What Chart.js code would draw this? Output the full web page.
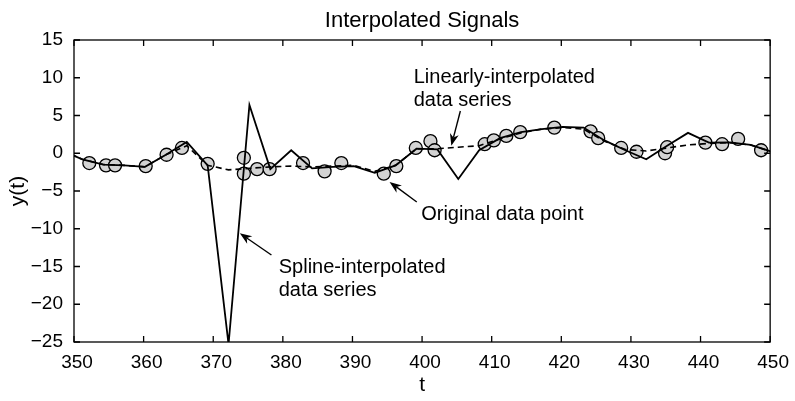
<!DOCTYPE html>
<html>
<head>
<meta charset="utf-8">
<script src="https://cdn.jsdelivr.net/npm/chart.js@4/dist/chart.umd.min.js"></script>
<style>
html,body{margin:0;padding:0;background:#fff;}
canvas{display:block;}
</style>
</head>
<body>
<canvas id="c" width="795" height="401"></canvas>
<script>
// ---- data ----
const gridT = [348.2,351.2,354.2,357.2,360.2,363.2,366.2,369.2,372.2,375.2,378.2,381.2,384.2,387.2,390.2,393.2,396.2,399.2,402.2,405.2,408.2,411.2,414.2,417.2,420.2,423.2,426.2,429.2,432.2,435.2,438.2,441.2,444.2,447.2,450.2];
const splineY = [0.4,-0.8,-1.5,-1.6,-1.8,-0.2,1.5,-1.6,-25.3,6.4,-2.1,0.4,-2.0,-1.8,-1.7,-2.6,-1.6,0.6,0.5,-3.4,0.4,2.0,2.8,3.2,3.5,3.4,1.7,0.4,-0.8,1.0,2.7,1.4,1.45,1.1,0.2];
const linearY = [0.4,-0.8,-1.5,-1.6,-1.8,-0.2,1.0,-1.6,-2.2,-2.0,-1.8,-1.7,-1.8,-1.7,-1.6,-2.4,-1.6,0.6,0.6,0.8,1.0,1.9,2.7,3.2,3.4,3.2,1.6,0.5,0.3,0.7,1.1,1.3,1.4,1.1,0.2];
const origT = [352.2,354.6,355.9,360.3,363.3,365.5,369.2,374.4,374.4,376.3,378.1,382.9,386.0,388.4,394.5,396.3,399.1,401.2,401.8,409.0,410.3,412.1,414.1,419.0,424.2,425.3,428.6,430.8,434.9,435.2,440.7,443.1,445.4,448.7];
const origY = [-1.3,-1.6,-1.6,-1.7,-0.2,0.7,-1.4,-0.6,-2.7,-2.1,-2.1,-1.3,-2.4,-1.3,-2.7,-1.7,0.7,1.6,0.4,1.2,1.7,2.3,2.8,3.4,2.9,2.0,0.7,0.2,0.0,0.8,1.4,1.2,1.9,0.4];
const xTicks = [350,360,370,380,390,400,410,420,430,440,450];
const yTicks = [-25,-20,-15,-10,-5,0,5,10,15];
const chartTitle = 'Interpolated Signals';
const xLabel = 't';
const yLabel = 'y(t)';
const notes = [
  {lines:['Linearly-interpolated','data series'], t:398.8, y:9.37, from:[405.5,5.6], to:[404.2,1.0]},
  {lines:['Original data point'], t:399.87, y:-8.84, from:[399.24,-6.46], to:[395.33,-3.8]},
  {lines:['Spline-interpolated','data series'], t:379.41, y:-15.86, from:[378.36,-13.48], to:[373.82,-10.6]}
];

const FONT = "'Liberation Sans', Arial, Helvetica, sans-serif";
const toXY = (xs, ys) => xs.map((x,i)=>({x:x, y:ys[i]}));

const framePlugin = {
  id:'frame',
  afterDatasetsDraw(chart){
    const {ctx, chartArea:a, scales:{x, y}} = chart;
    ctx.save();
    ctx.strokeStyle = '#000';
    ctx.lineWidth = 1.3;
    ctx.strokeRect(a.left, a.top, a.right-a.left, a.bottom-a.top);
    const tl = 6;
    ctx.beginPath();
    xTicks.forEach(v=>{
      const px = x.getPixelForValue(v);
      ctx.moveTo(px, a.bottom); ctx.lineTo(px, a.bottom-tl);
      ctx.moveTo(px, a.top); ctx.lineTo(px, a.top+tl);
    });
    yTicks.forEach(v=>{
      const py = y.getPixelForValue(v);
      ctx.moveTo(a.left, py); ctx.lineTo(a.left+tl, py);
      ctx.moveTo(a.right, py); ctx.lineTo(a.right-tl, py);
    });
    ctx.stroke();
    // title
    ctx.fillStyle = '#000';
    ctx.font = '22px ' + FONT;
    ctx.textAlign = 'center';
    ctx.textBaseline = 'alphabetic';
    ctx.fillText(chartTitle, (a.left+a.right)/2, 27);
    // annotations
    ctx.font = '20px ' + FONT;
    ctx.textAlign = 'left';
    notes.forEach(n=>{
      const tx = x.getPixelForValue(n.t), ty = y.getPixelForValue(n.y);
      n.lines.forEach((s,i)=> ctx.fillText(s, tx, ty + i*23.5));
      const x1 = x.getPixelForValue(n.from[0]), y1 = y.getPixelForValue(n.from[1]);
      const x2 = x.getPixelForValue(n.to[0]), y2 = y.getPixelForValue(n.to[1]);
      const ang = Math.atan2(y2-y1, x2-x1);
      const hl = 12, hw = 4.5;
      ctx.lineWidth = 1.4;
      ctx.beginPath();
      ctx.moveTo(x1,y1);
      ctx.lineTo(x2 - Math.cos(ang)*hl*0.7, y2 - Math.sin(ang)*hl*0.7);
      ctx.stroke();
      ctx.beginPath();
      ctx.moveTo(x2,y2);
      ctx.lineTo(x2 - Math.cos(ang)*hl - Math.sin(ang)*hw, y2 - Math.sin(ang)*hl + Math.cos(ang)*hw);
      ctx.lineTo(x2 - Math.cos(ang)*hl*0.7, y2 - Math.sin(ang)*hl*0.7);
      ctx.lineTo(x2 - Math.cos(ang)*hl + Math.sin(ang)*hw, y2 - Math.sin(ang)*hl - Math.cos(ang)*hw);
      ctx.closePath();
      ctx.fill();
    });
    ctx.restore();
  }
};

new Chart(document.getElementById('c'), {
  type:'scatter',
  data:{
    datasets:[
      {label:'Spline-interpolated', data:toXY(gridT, splineY), showLine:true, borderColor:'#000', borderWidth:1.8, pointRadius:0, order:1, tension:0},
      {label:'Linearly-interpolated', data:toXY(gridT, linearY), showLine:true, borderColor:'#000', borderWidth:1.6, borderDash:[6,4], pointRadius:0, order:2, tension:0},
      {label:'Original', data:toXY(origT, origY), showLine:false, pointRadius:6.5, pointBackgroundColor:'#d3d3d3', pointBorderColor:'#000', pointBorderWidth:1.3, order:3}
    ]
  },
  options:{
    responsive:false, animation:false, devicePixelRatio:1,
    layout:{padding:{top:40, right:24, left:0, bottom:0}},
    plugins:{legend:{display:false}, tooltip:{enabled:false}, title:{display:false}},
    scales:{
      x:{type:'linear', min:350, max:450,
         afterBuildTicks(s){ s.ticks = xTicks.map(v=>({value:v})); },
         afterFit(s){ s.height = 59; },
         grid:{display:false, drawTicks:false}, border:{display:false},
         ticks:{color:'#000', font:{family:FONT, size:19}, padding:9, labelOffset:3},
         title:{display:true, text:xLabel, color:'#000', font:{family:FONT, size:21}, padding:{top:0,bottom:3}}
      },
      y:{type:'linear', min:-25, max:15,
         afterBuildTicks(s){ s.ticks = yTicks.map(v=>({value:v})); },
         afterFit(s){ s.width = 74; },
         grid:{display:false, drawTicks:false}, border:{display:false},
         ticks:{color:'#000', font:{family:FONT, size:19}, padding:11,
                callback:(v)=> String(v).replace('-', '\u2212')},
         title:{display:true, text:yLabel, color:'#000', font:{family:FONT, size:21}, padding:{top:6,bottom:0}}
      }
    }
  },
  plugins:[framePlugin]
});
</script>
</body>
</html>
